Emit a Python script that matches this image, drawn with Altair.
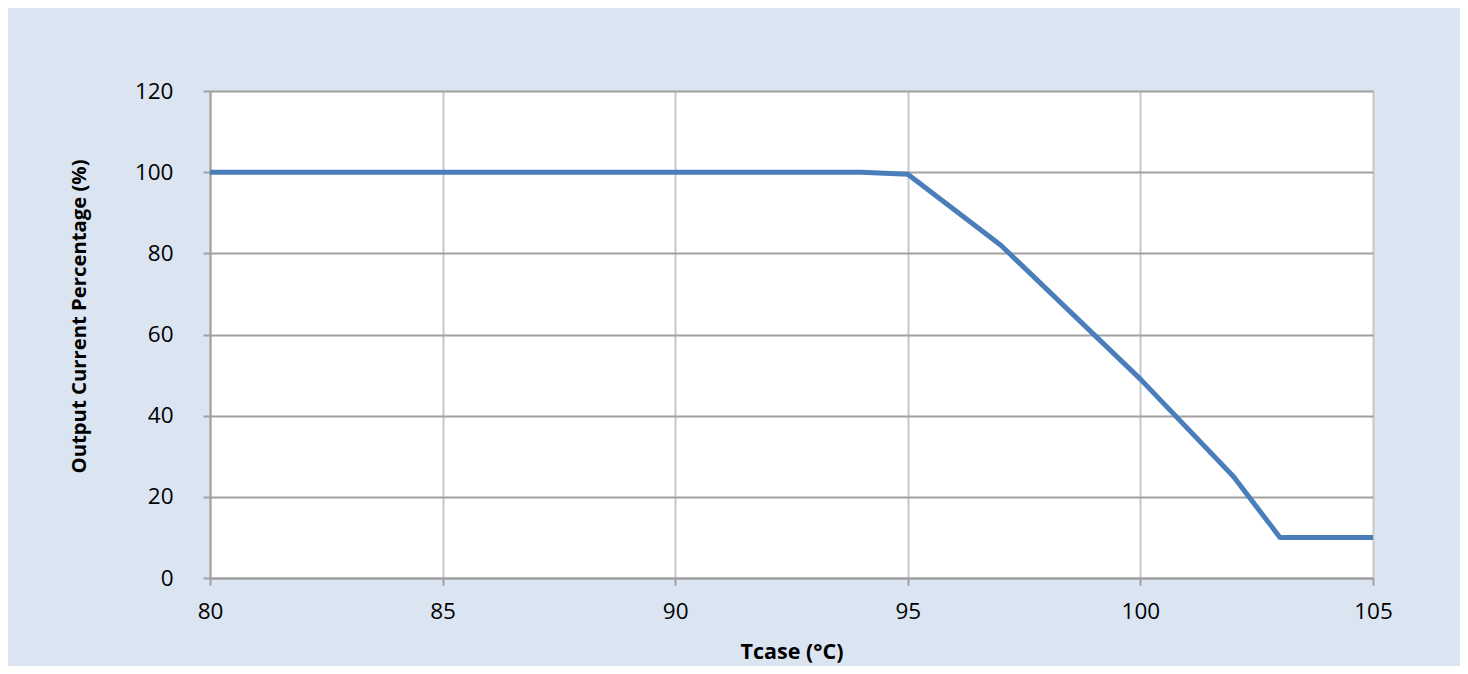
import altair as alt
import pandas as pd

# Data
tcase = [80, 94, 95, 97, 100, 102, 103, 105]
output_pct = [100, 100, 99.5, 82, 49, 25, 10, 10]

x_ticks = [80, 85, 90, 95, 100, 105]
y_ticks = [0, 20, 40, 60, 80, 100, 120]

df = pd.DataFrame({"Tcase": tcase, "Output": output_pct})

FONT = "Open Sans"
BG = "#dbe5f1"

chart = (
    alt.Chart(df)
    .mark_line(color="#4a7ebb", strokeWidth=5, strokeJoin="round")
    .encode(
        x=alt.X(
            "Tcase:Q",
            scale=alt.Scale(domain=[80, 105], nice=False, zero=False),
            axis=alt.Axis(
                values=x_ticks,
                title="Tcase (°C)",
                titleFont=FONT,
                titleFontSize=21.5,
                titleFontWeight="bold",
                titleColor="#000000",
                titleBaseline="alphabetic",
                titleY=80,
                labelFont=FONT,
                labelFontSize=22.5,
                labelColor="#000000",
                labelPadding=15,
                tickSize=7,
                tickColor="#a0a0a0",
                tickWidth=2,
                domainColor="#a0a0a0",
                domainWidth=2,
                gridColor="#c8c8c8",
                gridWidth=2,
                labelFlush=False,
            ),
        ),
        y=alt.Y(
            "Output:Q",
            scale=alt.Scale(domain=[0, 120], nice=False),
            axis=alt.Axis(
                values=y_ticks,
                title="Output Current Percentage (%)",
                titleFont=FONT,
                titleFontSize=20.3,
                titleFontWeight="bold",
                titleColor="#000000",
                titleBaseline="alphabetic",
                titleAngle=270,
                titleX=-125,
                titleY=225,
                labelFont=FONT,
                labelFontSize=22.5,
                labelColor="#000000",
                labelPadding=30,
                tickSize=7,
                tickColor="#a0a0a0",
                tickWidth=2,
                domainColor="#a0a0a0",
                domainWidth=2,
                gridColor="#a0a0a0",
                gridWidth=2,
                labelFlush=False,
            ),
        ),
    )
    .properties(
        width=1163,
        height=487,
        background=BG,
        padding={"left": 202, "top": 83, "right": 87, "bottom": 88},
        autosize=alt.AutoSizeParams(type="none"),
    )
    .configure_view(fill="white", stroke=None)
)

chart.save("out.html", embed_options={"renderer": "svg", "actions": False})
